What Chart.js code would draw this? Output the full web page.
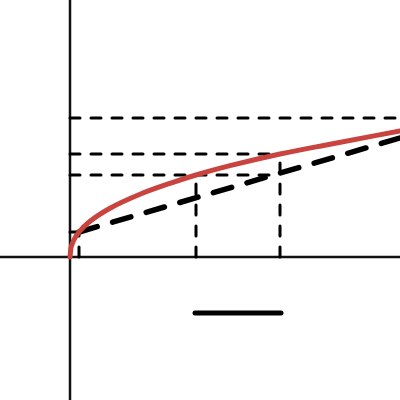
<!DOCTYPE html>
<html>
<head>
<meta charset="utf-8">
<script src="https://cdn.jsdelivr.net/npm/chart.js@4"></script>
<style>
  html, body { margin: 0; padding: 0; background: #fff; }
  #wrap { width: 400px; height: 400px; }
</style>
</head>
<body>
<div id="wrap"><canvas id="chart"></canvas></div>
<script>
// concave curve
const curveX = [0, 0.1, 0.2, 0.5, 0.9, 2, 4, 7, 10, 12.6, 16, 21, 26, 33];
const curveY = [0, 0.93, 1.27, 1.91, 2.5, 3.57, 4.88, 6.28, 7.37, 8.2, 9.13, 10.3, 11.28, 12.6];

// straight dashed line
const lineX = [0.9, 33];
const lineY = [2.5, 11.9];

// guide levels
const xMarks = [0.9, 12.6, 21];
const yMarks = [2.5, 8.2, 10.3];
const topLevel = 13.9;

// short bar below the axis
const barX = [12.5, 21.1];
const barY = -5.6;

const xRange = [-7, 33];
const yRange = [-14.3, 25.7];

const pts = (xs, ys) => xs.map((x, i) => ({ x, y: ys[i] }));

const guide = data => ({
  data,
  showLine: true,
  pointRadius: 0,
  borderColor: "#000",
  borderWidth: 3,
  borderDash: [10, 11],
  borderCapStyle: "round",
  fill: false
});

const datasets = [
  {
    data: pts(curveX, curveY),
    showLine: true,
    pointRadius: 0,
    borderColor: "#c9443e",
    borderWidth: 5,
    borderCapStyle: "round",
    cubicInterpolationMode: "monotone",
    fill: false
  },
  {
    data: pts(lineX, lineY),
    showLine: true,
    pointRadius: 0,
    borderColor: "#000",
    borderWidth: 5.5,
    borderDash: [19, 16],
    borderCapStyle: "round",
    fill: false
  },
  guide([{ x: 0, y: topLevel }, { x: xRange[1], y: topLevel }]),
  guide([{ x: 0, y: yMarks[2] }, { x: xMarks[2], y: yMarks[2] }]),
  guide([{ x: 0, y: yMarks[1] }, { x: xMarks[2], y: yMarks[1] }]),
  guide([{ x: 0, y: yMarks[0] }, { x: xMarks[0], y: yMarks[0] }]),
  guide([{ x: xMarks[0], y: 0 }, { x: xMarks[0], y: yMarks[0] }]),
  guide([{ x: xMarks[1], y: 0 }, { x: xMarks[1], y: yMarks[1] }]),
  guide([{ x: xMarks[2], y: 0 }, { x: xMarks[2], y: yMarks[2] }]),
  {
    data: [{ x: barX[0], y: barY }, { x: barX[1], y: barY }],
    showLine: true,
    pointRadius: 0,
    borderColor: "#000",
    borderWidth: 5,
    borderCapStyle: "round"
  },
  {
    data: [{ x: xRange[0], y: 0 }, { x: xRange[1], y: 0 }],
    showLine: true,
    pointRadius: 0,
    borderColor: "#111",
    borderWidth: 2.5
  },
  {
    data: [{ x: 0, y: yRange[0] }, { x: 0, y: yRange[1] }],
    showLine: true,
    pointRadius: 0,
    borderColor: "#111",
    borderWidth: 2.5
  }
];

new Chart(document.getElementById("chart"), {
  type: "scatter",
  data: { datasets },
  options: {
    responsive: true,
    maintainAspectRatio: false,
    animation: false,
    layout: { padding: 0 },
    plugins: { legend: { display: false }, tooltip: { enabled: false } },
    scales: {
      x: { type: "linear", min: xRange[0], max: xRange[1], display: false },
      y: { type: "linear", min: yRange[0], max: yRange[1], display: false }
    }
  }
});
</script>
</body>
</html>
